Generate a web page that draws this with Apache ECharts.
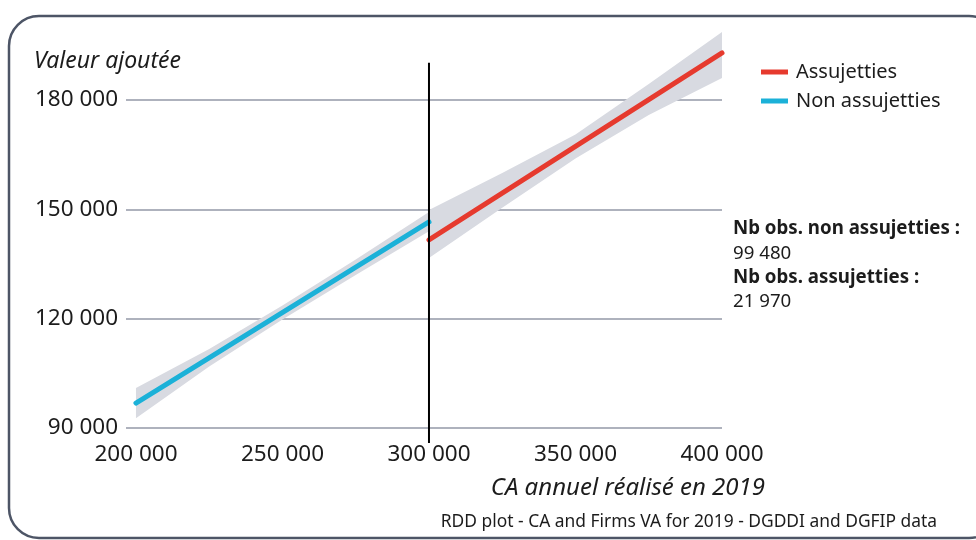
<!DOCTYPE html>
<html>
<head>
<meta charset="utf-8">
<script src="https://cdn.jsdelivr.net/npm/echarts@6/dist/echarts.min.js"></script>
<style>
  html, body { margin: 0; padding: 0; background: #fff; }
  #main { width: 976px; height: 540px; }
</style>
</head>
<body>
<div id="main"></div>
<script>
// tick labels
let xTicks = [200000, 250000, 300000, 350000, 400000];
let threshold = 300000;

// fitted lines
let nonAssujetties = [[200000, 96850], [300000, 146530]];
let assujetties = [[300000, 141590], [400000, 192900]];

// confidence bands: [x, lower, upper]
let bandNon = [
  [200000, 92700, 101000],
  [225000, 106900, 111700],
  [250000, 119800, 123600],
  [275000, 132000, 136200],
  [300000, 144000, 149300],
];
let bandAss = [
  [300000, 136660, 149810],
  [325000, 150400, 160000],
  [350000, 163940, 170540],
  [375000, 175900, 184400],
  [400000, 186040, 198660],
];

// vertical cut line
let cutLine = [[threshold, 190200], [threshold, 85900]];

const FONT = "Noto Sans";
const fmt = (v) => String(v).replace(/\B(?=(\d{3})+(?!\d))/g, " ");
const GRID = "#aeb2bd";

let myChart = document.getElementById("main");
let initChart = echarts.init(myChart, null, { renderer: "canvas" });

let bandSeries = (name, rows) => ({
  name: name,
  type: "custom",
  data: rows,
  silent: true,
  z: 1,
  renderItem: (params, api) => {
    if (params.dataIndex !== 0) return;
    let top = rows.map((r) => api.coord([r[0], r[2]]));
    let bot = rows.map((r) => api.coord([r[0], r[1]])).reverse();
    return {
      type: "polygon",
      shape: { points: top.concat(bot) },
      style: { fill: "#d8dae1" },
    };
  },
});

let option = {
  animation: false,
  textStyle: { fontFamily: FONT },
  grid: { left: 126, right: 254, top: 27.1, bottom: 112 },
  legend: {
    data: ["Assujetties", "Non assujetties"],
    orient: "vertical",
    left: 756,
    top: 57,
    itemWidth: 27,
    itemHeight: 5,
    itemGap: 9,
    icon: "rect",
    textStyle: { fontFamily: FONT, fontSize: 20, color: "#1c1c1c", padding: [0, 0, 0, 3] },
  },
  xAxis: {
    type: "value",
    min: 196600,
    max: 400000,
    axisLine: { show: false },
    axisTick: { show: false },
    splitLine: { show: false },
    axisLabel: {
      customValues: xTicks,
      formatter: fmt,
      fontFamily: FONT,
      fontSize: 22.5,
      color: "#1c1c1c",
      margin: 15,
    },
  },
  yAxis: {
    type: "value",
    min: 90000,
    max: 200000,
    interval: 30000,
    axisLine: { show: false },
    axisTick: { show: false },
    splitLine: {
      lineStyle: { color: [GRID, GRID, GRID, GRID, "rgba(0,0,0,0)"], width: 2 },
    },
    axisLabel: {
      formatter: (v) => (v % 30000 === 0 ? fmt(v) : ""),
      showMaxLabel: false,
      fontFamily: FONT,
      fontSize: 22.5,
      color: "#1c1c1c",
      margin: 8,
    },
  },
  graphic: [
    {
      type: "rect",
      shape: { x: 9, y: 16, width: 990, height: 522, r: 30 },
      style: { fill: null, stroke: "#4d5566", lineWidth: 2.5 },
      silent: true,
    },
    {
      type: "text", left: 34, top: 50,
      style: { text: "Valeur ajoutée", font: "italic 23px '" + FONT + "'", fill: "#1c1c1c" },
    },
    {
      type: "text", right: 211, top: 476,
      style: { text: "CA annuel réalisé en 2019", font: "italic 24px '" + FONT + "'", fill: "#1c1c1c" },
    },
    {
      type: "text", right: 39, top: 514,
      style: { text: "RDD plot - CA and Firms VA for 2019 - DGDDI and DGFIP data", font: "17.4px '" + FONT + "'", fill: "#1c1c1c" },
    },
    {
      type: "text", left: 733, top: 219,
      style: { text: "Nb obs. non assujetties :", font: "bold 18.7px '" + FONT + "'", fill: "#1c1c1c" },
    },
    {
      type: "text", left: 733, top: 244,
      style: { text: "99 480", font: "18.7px '" + FONT + "'", fill: "#1c1c1c" },
    },
    {
      type: "text", left: 733, top: 268,
      style: { text: "Nb obs. assujetties :", font: "bold 18.7px '" + FONT + "'", fill: "#1c1c1c" },
    },
    {
      type: "text", left: 733, top: 292,
      style: { text: "21 970", font: "18.7px '" + FONT + "'", fill: "#1c1c1c" },
    },
  ],
  series: [
    bandSeries("bandNon", bandNon),
    bandSeries("bandAss", bandAss),
    {
      name: "Non assujetties",
      type: "line",
      data: nonAssujetties,
      symbol: "none",
      z: 3,
      color: "#1bb1d8",
      lineStyle: { width: 5, cap: "round" },
    },
    {
      name: "Assujetties",
      type: "line",
      data: assujetties,
      symbol: "none",
      z: 3,
      color: "#e63a2e",
      lineStyle: { width: 5, cap: "round" },
    },
    {
      name: "cut",
      type: "line",
      data: cutLine,
      symbol: "none",
      clip: false,
      z: 4,
      color: "#000",
      lineStyle: { width: 2 },
      silent: true,
    },
  ],
};

initChart.setOption(option);
</script>
</body>
</html>
